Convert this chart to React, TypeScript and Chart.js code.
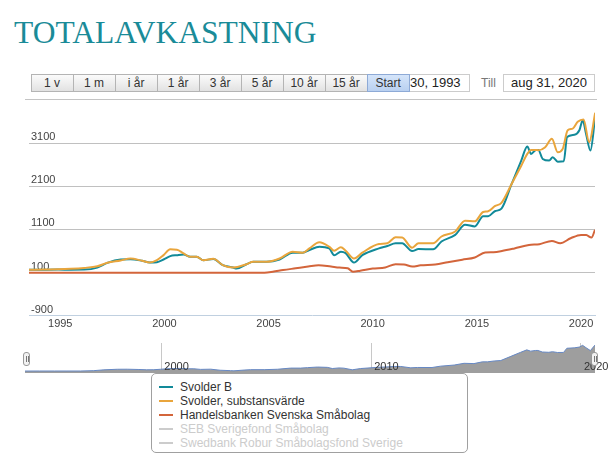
import React, { useEffect, useRef } from "react";
import { Chart, registerables } from "chart.js";

Chart.register(...registerables);

// ---- data ----
const svolderBYears = [1993.5, 1994.2, 1994.9, 1995.5, 1996.15, 1996.78, 1997.26, 1997.9, 1998.37, 1998.93, 1999.3, 1999.64, 1999.96, 2000.28, 2000.6, 2000.92, 2001.24, 2001.55, 2001.87, 2002.35, 2002.8, 2003.3, 2003.46, 2003.94, 2004.26, 2004.9, 2005.53, 2006.16, 2006.64, 2006.96, 2007.44, 2007.91, 2008.15, 2008.47, 2008.7, 2009.1, 2009.5, 2010.3, 2010.7, 2011.1, 2011.41, 2011.89, 2012.2, 2012.9, 2013.3, 2013.96, 2014.43, 2014.9, 2015.3, 2015.54, 2015.86, 2016.18, 2016.66, 2017.13, 2017.42, 2017.6, 2017.84, 2017.95, 2018.16, 2018.47, 2018.64, 2018.88, 2019.17, 2019.33, 2019.68, 2019.92, 2020.08, 2020.24, 2020.45, 2020.67];
const svolderBValues = [165, 168, 170, 168, 170, 217, 327, 405, 412, 374, 334, 341, 405, 482, 505, 522, 468, 468, 388, 415, 275, 217, 194, 295, 351, 351, 405, 562, 562, 623, 702, 663, 505, 585, 552, 334, 505, 663, 716, 780, 780, 600, 646, 639, 820, 974, 1209, 1171, 1405, 1405, 1522, 1584, 2146, 2695, 3023, 2850, 2943, 2943, 2733, 2695, 2772, 2671, 2678, 3241, 3295, 3398, 3632, 3319, 2928, 3670];

const substansYears = [1993.5, 1994.2, 1994.87, 1995.5, 1996.15, 1996.78, 1997.26, 1997.9, 1998.37, 1998.93, 1999.3, 1999.64, 1999.96, 2000.28, 2000.6, 2000.92, 2001.24, 2001.55, 2001.87, 2002.35, 2002.8, 2003.3, 2003.94, 2004.26, 2004.9, 2005.53, 2006.16, 2006.64, 2006.96, 2007.44, 2007.91, 2008.15, 2008.47, 2008.7, 2009.1, 2009.5, 2010.3, 2010.7, 2011.1, 2011.41, 2011.89, 2012.2, 2012.9, 2013.3, 2013.96, 2014.43, 2014.9, 2015.3, 2015.54, 2015.86, 2016.18, 2016.66, 2017.13, 2017.42, 2017.6, 2017.84, 2017.95, 2018.28, 2018.6, 2018.88, 2019.12, 2019.36, 2019.6, 2019.84, 2020.12, 2020.39, 2020.68];
const substansValues = [165, 172, 177, 188, 210, 248, 327, 381, 428, 374, 334, 388, 505, 639, 632, 545, 468, 468, 388, 421, 275, 217, 295, 351, 351, 428, 585, 562, 663, 803, 702, 609, 686, 609, 428, 562, 763, 780, 920, 913, 679, 780, 780, 937, 1054, 1303, 1288, 1506, 1522, 1640, 1717, 2146, 2577, 2850, 2943, 2943, 2935, 3006, 3202, 2889, 2967, 3398, 3436, 3593, 3647, 3124, 3803];

const handelsYears = [1993.5, 2004.8, 2005.2, 2005.7, 2006.3, 2006.9, 2007.4, 2008.0, 2008.4, 2008.8, 2009.05, 2009.4, 2010.0, 2010.6, 2011.1, 2011.5, 2011.9, 2012.3, 2013.0, 2013.6, 2014.3, 2014.9, 2015.4, 2015.8, 2016.2, 2016.8, 2017.5, 2018.0, 2018.6, 2019.0, 2019.5, 2020.0, 2020.25, 2020.5, 2020.67];
const handelsValues = [100, 100, 120, 160, 200, 240, 271, 240, 217, 200, 123, 145, 194, 220, 295, 290, 240, 270, 288, 340, 400, 452, 569, 575, 600, 660, 740, 760, 834, 780, 897, 974, 970, 913, 1092];

const xTickYears = [1995, 2000, 2005, 2010, 2015, 2020];
const navTickYears = [2000, 2010, 2020];
const yTickValues = [-900, 100, 1100, 2100, 3100];
const X_MIN = 1993.5;
const X_MAX = 2020.67;
const Y_MIN = -900;
const Y_MAX = 3900;

const rangeButtons = ["1 v", "1 m", "i år", "1 år", "3 år", "5 år", "10 år", "15 år", "Start"];
const legendLabels = ["Svolder B", "Svolder, substansvärde", "Handelsbanken Svenska Småbolag", "SEB Sverigefond Småbolag", "Swedbank Robur Småbolagsfond Sverige"];
const legendVisible = [true, true, true, false, false];

const TEAL = "#128a99";
const ORANGE = "#e9a53c";
const RED = "#d3653b";
const legendColors = [TEAL, ORANGE, RED, "#cccccc", "#cccccc"];

const FONT = "'Liberation Sans', Arial, sans-serif";

const toPts = (xs: number[], ys: number[]) => xs.map((x, i) => ({ x, y: ys[i] }));

export default function App() {
  const mainRef = useRef<HTMLCanvasElement>(null);
  const navRef = useRef<HTMLCanvasElement>(null);

  useEffect(() => {
    Chart.defaults.font.family = FONT;
    const lineDs = (label: string, xs: number[], ys: number[], color: string, order: number) => ({
      label,
      data: toPts(xs, ys),
      borderColor: color,
      backgroundColor: color,
      borderWidth: 2,
      pointRadius: 0,
      cubicInterpolationMode: "monotone" as const,
      fill: false,
      order,
    });

    const main = new Chart(mainRef.current!, {
      type: "line",
      data: {
        datasets: [
          lineDs(legendLabels[0], svolderBYears, svolderBValues, TEAL, 3),
          lineDs(legendLabels[1], substansYears, substansValues, ORANGE, 2),
          lineDs(legendLabels[2], handelsYears, handelsValues, RED, 1),
        ],
      },
      options: {
        animation: false,
        responsive: false,
        devicePixelRatio: 1,
        layout: { padding: { left: 25, right: 21, top: 7, bottom: 2 } },
        plugins: { legend: { display: false }, tooltip: { enabled: false } },
        scales: {
          x: {
            type: "linear",
            min: X_MIN,
            max: X_MAX,
            afterBuildTicks: (s: any) => {
              s.ticks = xTickYears.map((v) => ({ value: v }));
            },
            grid: { display: false, drawTicks: false },
            border: { display: true, color: "#c0d0e0", width: 1 },
            ticks: {
              autoSkip: false,
              maxRotation: 0,
              padding: 2,
              color: "#444",
              font: { size: 11 },
              callback: (v: any) => String(v),
            },
          },
          y: {
            type: "linear",
            min: Y_MIN,
            max: Y_MAX,
            afterBuildTicks: (s: any) => {
              s.ticks = yTickValues.map((v) => ({ value: v }));
            },
            grid: {
              drawTicks: false,
              color: (ctx: any) => (ctx.tick && ctx.tick.value === Y_MIN ? "rgba(0,0,0,0)" : "#c0c0c0"),
            },
            border: { display: false },
            ticks: {
              mirror: true,
              padding: 2,
              labelOffset: -6,
              color: "#444",
              font: { size: 11 },
              callback: (v: any) => String(v),
            },
          },
        },
      },
    });

    const nav = new Chart(navRef.current!, {
      type: "line",
      data: {
        datasets: [
          {
            label: legendLabels[0],
            data: toPts(svolderBYears, svolderBValues),
            borderColor: "#6688c4",
            backgroundColor: "#9e9e9e",
            borderWidth: 1,
            pointRadius: 0,
            fill: "start",
            tension: 0,
          },
        ],
      },
      options: {
        animation: false,
        responsive: false,
        devicePixelRatio: 1,
        layout: { padding: { left: 25, right: 21, top: 5, bottom: 5 } },
        plugins: { legend: { display: false }, tooltip: { enabled: false } },
        scales: {
          x: {
            type: "linear",
            min: X_MIN,
            max: X_MAX,
            afterBuildTicks: (s: any) => {
              s.ticks = navTickYears.map((v) => ({ value: v }));
            },
            grid: { color: "#c8c8c8", drawTicks: false },
            border: { display: false },
            ticks: {
              autoSkip: false,
              maxRotation: 0,
              align: "start",
              labelOffset: 3,
              padding: -13,
              z: 1,
              color: "#333",
              font: { size: 11 },
              callback: (v: any) => String(v),
            },
          },
          y: { display: false, min: -100, max: 3950 },
        },
      },
    });

    return () => {
      main.destroy();
      nav.destroy();
    };
  }, []);

  const btnLeft = 30.6;
  const btnW = 42;

  return (
    <div style={{ position: "absolute", left: 0, top: 0, width: 616, height: 462, background: "#fff", fontFamily: FONT, overflow: "hidden" }}>
      <div style={{ position: "absolute", left: 14, top: 17, fontFamily: "'Liberation Serif', 'Times New Roman', serif", fontSize: 31.5, lineHeight: "31px", color: "#1a8b98", whiteSpace: "nowrap" }}>
        TOTALAVKASTNING
      </div>

      {rangeButtons.map((b, i) => {
        const sel = b === "Start";
        return (
          <div
            key={b}
            style={{
              position: "absolute",
              left: btnLeft + i * btnW,
              top: 74,
              width: btnW + 1,
              height: 18,
              boxSizing: "border-box",
              border: sel ? "1px solid #8eaad6" : "1px solid #b4b4b4",
              background: sel ? "linear-gradient(#d5e5fa, #b9d0f0)" : "linear-gradient(#fbfbfb, #e2e2e2)",
              fontSize: 12,
              lineHeight: "16px",
              textAlign: "center",
              color: "#333",
              zIndex: sel ? 2 : 1,
            }}
          >
            {b}
          </div>
        );
      })}
      <div style={{ position: "absolute", left: 408, top: 74, width: 62, height: 18, boxSizing: "border-box", border: "1px solid #ccc", borderLeft: "none", fontSize: 13, lineHeight: "16px", paddingLeft: 2, color: "#222", overflow: "hidden", whiteSpace: "nowrap" }}>
        30, 1993
      </div>
      <div style={{ position: "absolute", left: 481, top: 74, height: 18, fontSize: 12, lineHeight: "18px", color: "#777" }}>Till</div>
      <div style={{ position: "absolute", left: 503, top: 74, width: 92, height: 18, boxSizing: "border-box", border: "1px solid #ccc", fontSize: 13, lineHeight: "16px", textAlign: "center", color: "#222", whiteSpace: "nowrap" }}>
        aug 31, 2020
      </div>
      <div style={{ position: "absolute", left: 25, top: 99, width: 572, height: 1, background: "#c4c4c4" }} />

      <canvas ref={mainRef} width={616} height={235} style={{ position: "absolute", left: 0, top: 100, width: 616, height: 235 }} />
      <canvas ref={navRef} width={616} height={40} style={{ position: "absolute", left: 0, top: 338, width: 616, height: 40 }} />

      {[23, 591].map((x, i) => (
        <div key={i} style={{ position: "absolute", left: x, top: 352, width: 7, height: 14, boxSizing: "border-box", border: "1px solid #999", borderRadius: 3, background: "#f2f2f2" }}>
          <div style={{ position: "absolute", left: 1.5, top: 3, width: 1, height: 6, background: "#777" }} />
          <div style={{ position: "absolute", left: 3.5, top: 3, width: 1, height: 6, background: "#777" }} />
        </div>
      ))}

      <div style={{ position: "absolute", left: 151, top: 373, width: 317, height: 80, boxSizing: "border-box", border: "1px solid #a0a0a0", borderRadius: 5, background: "#fff" }}>
        {legendLabels.map((l, i) => (
          <div key={l} style={{ position: "absolute", left: 0, top: 6 + 14 * i, height: 14, width: 310 }}>
            <div style={{ position: "absolute", left: 7, top: 6, width: 14, height: 2, background: legendColors[i] }} />
            <div style={{ position: "absolute", left: 28, top: 0, fontSize: 12, lineHeight: "14px", color: legendVisible[i] ? "#333" : "#cccccc", whiteSpace: "nowrap" }}>{l}</div>
          </div>
        ))}
      </div>
    </div>
  );
}
